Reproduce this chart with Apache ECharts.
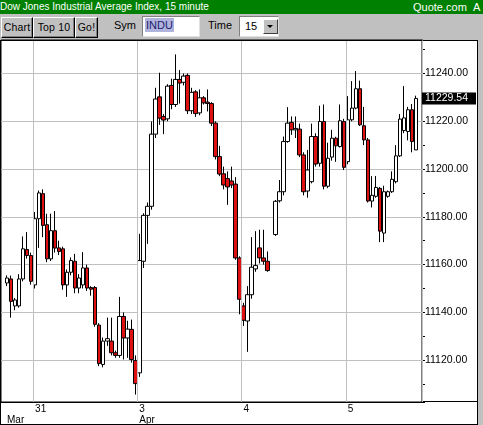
<!DOCTYPE html>
<html>
<head>
<meta charset="utf-8">
<script src="https://cdn.jsdelivr.net/npm/echarts@6/dist/echarts.min.js"></script>
<style>
body{margin:0;width:483px;height:425px;background:#c0c0c0;overflow:hidden;position:relative;font-family:Arial,"Liberation Sans",sans-serif;}
#title{position:absolute;left:0;top:0;width:483px;height:14px;background:#008000;color:#fff;font-size:10px;line-height:14px;white-space:nowrap;overflow:hidden;}
#title span{position:absolute;left:413px;top:0;font-size:11px;}
.btn{position:absolute;top:17px;height:19px;background:#c0c0c0;border:1px solid;border-color:#fff #000 #000 #fff;box-shadow:inset -1px -1px 0 #808080;font-size:10.5px;letter-spacing:0.2px;line-height:19px;text-align:center;color:#000;}
.lbl{position:absolute;top:19px;font-size:11px;color:#000;}
.box{position:absolute;top:16px;height:19px;background:#fff;border:1px solid;border-color:#808080 #e0e0e0 #e0e0e0 #808080;}
#panel{position:absolute;left:0;top:40px;width:476px;height:383px;border:1px solid #000;background:#fff;}
#chart{position:absolute;left:0;top:0;width:483px;height:425px;}
#rule{position:absolute;left:422px;top:401px;width:55px;height:1px;background:#000;}
</style>
</head>
<body>
<div id="title">Dow Jones Industrial Average Index, 15 minute<span>Quote.com&nbsp;&nbsp;A</span></div>
<div class="btn" style="left:1px;width:30px;">Chart</div>
<div class="btn" style="left:33px;width:40px;">Top 10</div>
<div class="btn" style="left:75px;width:21px;">Go!</div>
<div class="lbl" style="left:114px;">Sym</div>
<div class="box" style="left:142px;width:56px;"><span style="position:absolute;left:2px;top:1px;height:14px;line-height:14px;padding:0 1px;font-size:11px;background:#b0b4dc;color:#202070;">INDU</span></div>
<div class="lbl" style="left:208px;">Time</div>
<div class="box" style="left:239px;width:38px;"><span style="position:absolute;left:5px;top:2px;font-size:11px;line-height:14px;color:#000;">15</span>
<div style="position:absolute;left:23px;top:2px;width:13px;height:13px;background:#c0c0c0;border:1px solid;border-color:#fff #404040 #404040 #fff;">
<div style="position:absolute;left:3px;top:5px;width:0;height:0;border-left:3px solid transparent;border-right:3px solid transparent;border-top:3px solid #000;"></div></div></div>
<div id="panel"></div>
<div id="rule"></div>
<div id="chart"></div>
<script>
// trading days shown, 15 minute bars
var dayNames = ['30', '31', '3', '4', '5'];
var dayMonths = ['Mar', 'Mar', 'Apr', 'Apr', 'Apr'];
var dayBars = [7, 26, 26, 26, 18];
var dayFirstSlot = [19, 0, 0, 0, 0];

// one value per bar, null where no bar was drawn
var opens = [
    11152.3, 11154.0, 11142.7, 11142.7, 11154.0, 11166.3, 11163.8,
    11151.5, 11179.2, 11189.7, 11176.7, 11162.4, 11174.2, 11167.0, 11166.6, 11151.5, 11156.8, 11161.4, 11150.2, 11151.5,
    11158.6, 11150.4, 11150.4, 11134.7, 11118.2, 11128.0, 11128.0, 11123.1, 11122.0, 11138.3, 11129.3, 11132.9, 11119.9,
    11114.7, 11161.4, 11180.6, 11184.4, 11214.6, 11230.2, 11222.0, 11221.0, 11235.0, 11227.0, 11237.5, 11236.3, 11239.2,
    11224.4, 11232.3, 11223.5, 11229.8, 11228.0, 11227.4, 11219.2, 11205.2, 11198.0, 11196.0, 11195.0, 11193.7, 11162.8,
    11142.7, 11136.4, 11147.4, 11158.2, 11167.0, 11162.8, 11161.4, null, 11172.6, 11186.7, 11190.5, 11211.5, 11219.5,
    11216.4, 11216.7, 11205.9, 11190.8, 11194.7, 11213.6, 11202.4, 11219.9, 11192.8, 11205.0, 11212.9, 11209.4, 11219.9,
    11203.1, 11220.6, 11225.5, 11233.6, 11218.1, 11212.2, 11186.6, 11188.6, 11191.9, 11173.2, 11188.6, 11190.5, 11194.7,
    11205.5, 11216.1, 11215.7, 11224.8, 11208.0
];
var closes = [
    11154.4, 11144.6, 11145.2, 11154.0, 11166.6, 11163.8, 11153.0,
    11179.2, 11190.0, 11176.4, 11162.4, 11174.2, 11166.9, 11165.5, 11151.5, 11156.8, 11161.7, 11150.2, 11154.4, 11158.6,
    11150.2, 11149.7, 11135.0, 11118.6, 11128.0, 11129.0, 11123.1, 11122.0, 11138.3, 11129.3, 11133.0, 11120.3, 11110.2,
    11161.7, 11180.6, 11184.4, 11214.6, 11229.3, 11221.3, 11220.5, 11234.7, 11227.0, 11237.5, 11236.0, 11238.9, 11224.4,
    11232.1, 11223.2, 11229.8, 11227.7, 11227.4, 11219.2, 11205.2, 11197.9, 11193.3, 11192.5, 11193.3, 11162.8, 11145.5,
    11136.7, 11147.4, 11158.9, 11159.6, 11162.8, 11161.4, 11157.5, null, 11186.5, 11190.5, 11211.5, 11219.2, 11216.4,
    11217.0, 11205.9, 11190.5, 11199.6, 11213.6, 11202.1, 11219.9, 11192.8, 11204.5, 11212.9, 11209.7, 11220.2, 11200.7,
    11220.6, 11225.5, 11233.6, 11218.5, 11212.2, 11186.6, 11189.0, 11192.3, 11174.0, 11190.5, 11190.5, 11195.7, 11205.5,
    11220.9, 11221.4, 11224.8, 11211.5, 11229.54
];
var lows = [
    11151.0, 11137.8, 11140.9, 11142.0, 11153.0, 11162.5, 11151.6,
    11150.0, 11167.0, 11171.5, 11161.0, 11161.5, 11165.0, 11164.0, 11149.5, 11146.5, 11155.5, 11148.0, 11148.0, 11150.0,
    11149.0, 11147.0, 11134.0, 11117.5, 11117.0, 11126.0, 11122.0, 11121.0, 11121.0, 11120.3, 11121.0, 11119.0, 11105.6,
    11113.0, 11158.6, 11168.7, 11183.0, 11213.0, 11218.5, 11214.6, 11220.0, 11225.0, 11226.0, 11227.4, 11235.0, 11223.0,
    11223.0, 11221.8, 11222.5, 11227.0, 11224.1, 11218.0, 11204.0, 11197.0, 11191.5, 11185.0, 11192.0, 11162.0, 11139.2,
    11134.3, 11123.5, 11145.7, 11157.0, 11160.5, 11160.0, 11157.0, null, 11172.0, 11186.0, 11189.0, 11211.0, 11214.3,
    11213.0, 11205.0, 11189.0, 11188.0, 11194.0, 11201.0, 11201.0, 11191.5, 11192.0, 11203.5, 11203.0, 11209.0, 11199.6,
    11202.0, 11220.0, 11225.0, 11218.0, 11210.0, 11186.0, 11183.9, 11188.0, 11169.4, 11169.4, 11188.0, 11190.0, 11194.0,
    11205.0, 11215.0, 11212.0, 11207.0, 11208.0
];
var highs = [
    11155.5, 11155.4, 11146.0, 11156.0, 11171.8, 11173.6, 11165.0,
    11182.0, 11191.0, 11191.5, 11181.3, 11181.3, 11182.4, 11170.0, 11167.5, 11158.0, 11163.0, 11164.5, 11156.0, 11165.2,
    11160.0, 11151.0, 11151.0, 11135.5, 11129.5, 11137.8, 11137.8, 11124.0, 11146.5, 11140.0, 11136.5, 11137.0, 11122.0,
    11172.9, 11181.5, 11186.0, 11219.9, 11234.0, 11240.3, 11223.0, 11235.5, 11237.8, 11248.0, 11241.4, 11240.0, 11240.0,
    11234.0, 11233.0, 11233.3, 11230.5, 11233.3, 11228.0, 11220.0, 11209.7, 11201.0, 11199.0, 11201.0, 11196.6, 11163.5,
    11144.0, 11151.0, 11171.5, 11174.0, 11174.6, 11174.6, 11165.5, null, 11187.0, 11195.4, 11213.6, 11225.9, 11222.0,
    11222.0, 11219.0, 11207.0, 11208.0, 11219.0, 11215.0, 11226.5, 11227.0, 11211.0, 11216.4, 11213.5, 11227.0, 11221.0,
    11230.5, 11236.8, 11241.0, 11237.0, 11226.0, 11213.0, 11197.0, 11197.1, 11192.5, 11193.0, 11191.0, 11199.0, 11210.0,
    11223.0, 11234.7, 11226.0, 11227.2, 11230.7
];

// price scale on the right
var yMin = 11102.5;
var yMax = 11254;

// categories, with one empty slot at each end like the original
var cats = [''], catSlot = [-1], catDay = [-1];
for (var d = 0; d < dayNames.length; d++) {
    for (var j = 0; j < dayBars[d]; j++) {
        var slot = dayFirstSlot[d] + j;
        var mins = 570 + slot * 15;
        cats.push(dayMonths[d] + ' ' + dayNames[d] + ' ' + Math.floor(mins / 60) + ':' + ('0' + mins % 60).slice(-2));
        catSlot.push(slot);
        catDay.push(d);
    }
}
cats.push(''); catSlot.push(-1); catDay.push(-1);

var candleData = ['-'];
for (var i = 0; i < opens.length; i++) {
    candleData.push(opens[i] == null ? '-' : [opens[i], closes[i], lows[i], highs[i]]);
}
candleData.push('-');
var lastClose = closes[closes.length - 1];

function isDayStart(idx) { return catSlot[idx] === 0; }
function isHour(idx) { return catSlot[idx] >= 0 && catSlot[idx] % 4 === 2; }
function isLabel(idx) { return idx === 1 || catSlot[idx] === 0; }

var myChart = echarts.init(document.getElementById('chart'));
myChart.setOption({
    animation: false,
    grid: { left: 1, top: 40, right: 61, bottom: 23, show: true, borderColor: '#000', borderWidth: 1, backgroundColor: 'transparent', outerBoundsMode: 'none' },
    xAxis: [
        {
            type: 'category', data: cats, position: 'bottom', z: 3,
            axisLine: { onZero: false, lineStyle: { color: '#000', width: 1 } },
            axisTick: { alignWithLabel: true, interval: isDayStart, length: 5, lineStyle: { color: '#000' } },
            axisLabel: {
                interval: isLabel, align: 'left', margin: 2, fontSize: 10, lineHeight: 10.5, color: '#000',
                fontFamily: 'Arial',
                formatter: function (value, idx) {
                    if (idx === 1 && catSlot[idx] !== 0) return '\n' + dayMonths[catDay[idx]];
                    var d = catDay[idx];
                    var s = dayNames[d];
                    if (d > 0 && dayMonths[d] !== dayMonths[d - 1]) s += '\n' + dayMonths[d];
                    return s;
                }
            },
            splitLine: { show: true, interval: isDayStart, lineStyle: { color: '#c0c0c0', width: 1 } }
        },
        {
            type: 'category', data: cats, position: 'bottom', z: 3,
            axisLine: { show: false, onZero: false },
            axisTick: { alignWithLabel: true, inside: true, interval: isHour, length: 3, lineStyle: { color: '#000' } },
            axisLabel: { show: false },
            splitLine: { show: false }
        },
        {
            type: 'category', data: cats, position: 'top', z: 3,
            axisLine: { onZero: false, lineStyle: { color: '#000', width: 1 } },
            axisTick: { alignWithLabel: true, inside: true, interval: isHour, length: 3, lineStyle: { color: '#000' } },
            axisLabel: { show: false },
            splitLine: { show: false }
        }
    ],
    yAxis: [
        {
            type: 'value', position: 'right', min: yMin, max: yMax, splitNumber: 8, z: 2,
            axisLine: { show: true, lineStyle: { color: '#000' } },
            axisTick: { show: false },
            axisLabel: {
                color: '#000', fontSize: 10.5, margin: 3, fontFamily: 'Arial',
                showMinLabel: false, showMaxLabel: false,
                formatter: function (v) { return v.toFixed(2); }
            },
            splitLine: { show: true, lineStyle: { color: '#c0c0c0', width: 1 } }
        },
        {
            type: 'value', position: 'right', min: yMin, max: yMax, splitNumber: 15, z: 2,
            axisLine: { show: false },
            axisTick: { show: true, length: 3, lineStyle: { color: '#000' } },
            axisLabel: { show: false },
            splitLine: { show: false }
        }
    ],
    series: [{
        type: 'candlestick',
        xAxisIndex: 0,
        yAxisIndex: 0,
        data: candleData,
        barWidth: 4,
        itemStyle: { color: '#fff', color0: '#dd1111', borderColor: '#000', borderColor0: '#000', borderWidth: 1 },
        markLine: {
            silent: true, symbol: ['none', 'none'], animation: false,
            lineStyle: { color: 'rgba(0,0,0,0)', width: 1, type: 'solid' },
            label: {
                show: true, position: 'end', distance: 0, color: '#fff', backgroundColor: '#000',
                padding: [1, 8, 0, 3], fontSize: 10.5, fontFamily: 'Arial',
                formatter: lastClose.toFixed(2)
            },
            data: [{ yAxis: lastClose }]
        }
    }]
});
</script>
</body>
</html>
